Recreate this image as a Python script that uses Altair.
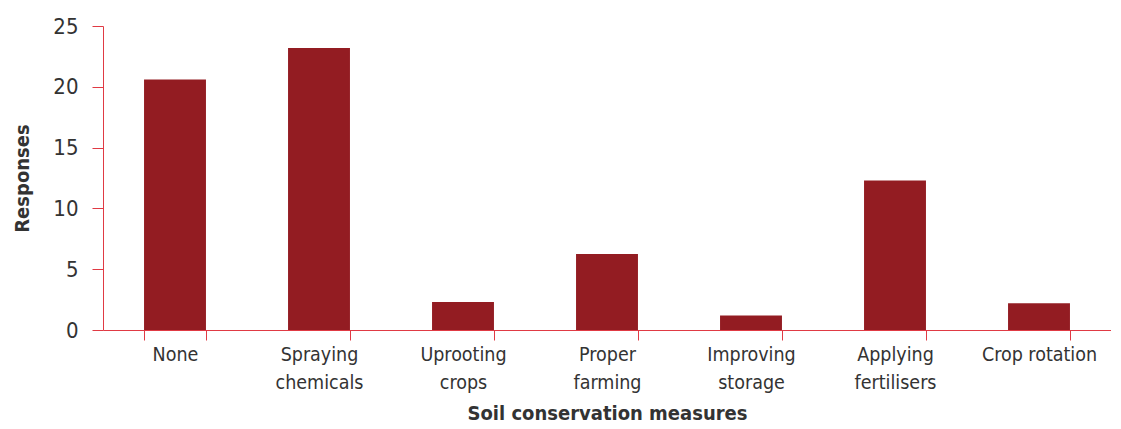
import altair as alt
import pandas as pd

categories = ["None", "Spraying chemicals", "Uprooting crops", "Proper farming",
              "Improving storage", "Applying fertilisers", "Crop rotation"]
responses = [20.6, 23.2, 2.3, 6.25, 1.2, 12.3, 2.2]

df = pd.DataFrame({"measure": categories, "responses": responses})

FONT = "'DejaVu Sans Condensed', 'Roboto', sans-serif"
AXIS_RED = "#e03a44"
BAR = "#931c22"

chart = alt.Chart(df).mark_bar(color=BAR).encode(
    x=alt.X("measure:N", sort=categories,
            title="Soil conservation measures",
            scale=alt.Scale(paddingInner=0.57, paddingOuter=0.285),
            axis=alt.Axis(labelAngle=0,
                          labelExpr="datum.label == 'Crop rotation' ? datum.label : split(datum.label, ' ')",
                          labelFont=FONT, labelFontSize=19.5, labelColor="#333333",
                          labelLineHeight=28, labelPadding=5,
                          tickBand="extent", tickSize=10, tickColor=AXIS_RED,
                          domainColor=AXIS_RED, titleFont=FONT, titleFontSize=20,
                          titleFontWeight="bold", titleColor="#333333", titlePadding=12)),
    y=alt.Y("responses:Q", title="Responses",
            scale=alt.Scale(domain=[0, 25]),
            axis=alt.Axis(values=[0, 5, 10, 15, 20, 25], grid=False,
                          labelFont=FONT, labelFontSize=22, labelColor="#333333",
                          labelPadding=14, tickSize=11, tickColor=AXIS_RED,
                          domainColor=AXIS_RED, titleFont=FONT, titleFontSize=20,
                          titleFontWeight="bold", titleColor="#333333", titlePadding=20)),
).properties(
    width=1008, height=304,
    autosize=alt.AutoSizeParams(type="none"),
    padding={"left": 95, "top": 18, "right": 0, "bottom": 95},
).configure_view(stroke=None)

chart.save("out.html", embed_options={"renderer": "svg", "actions": False})
